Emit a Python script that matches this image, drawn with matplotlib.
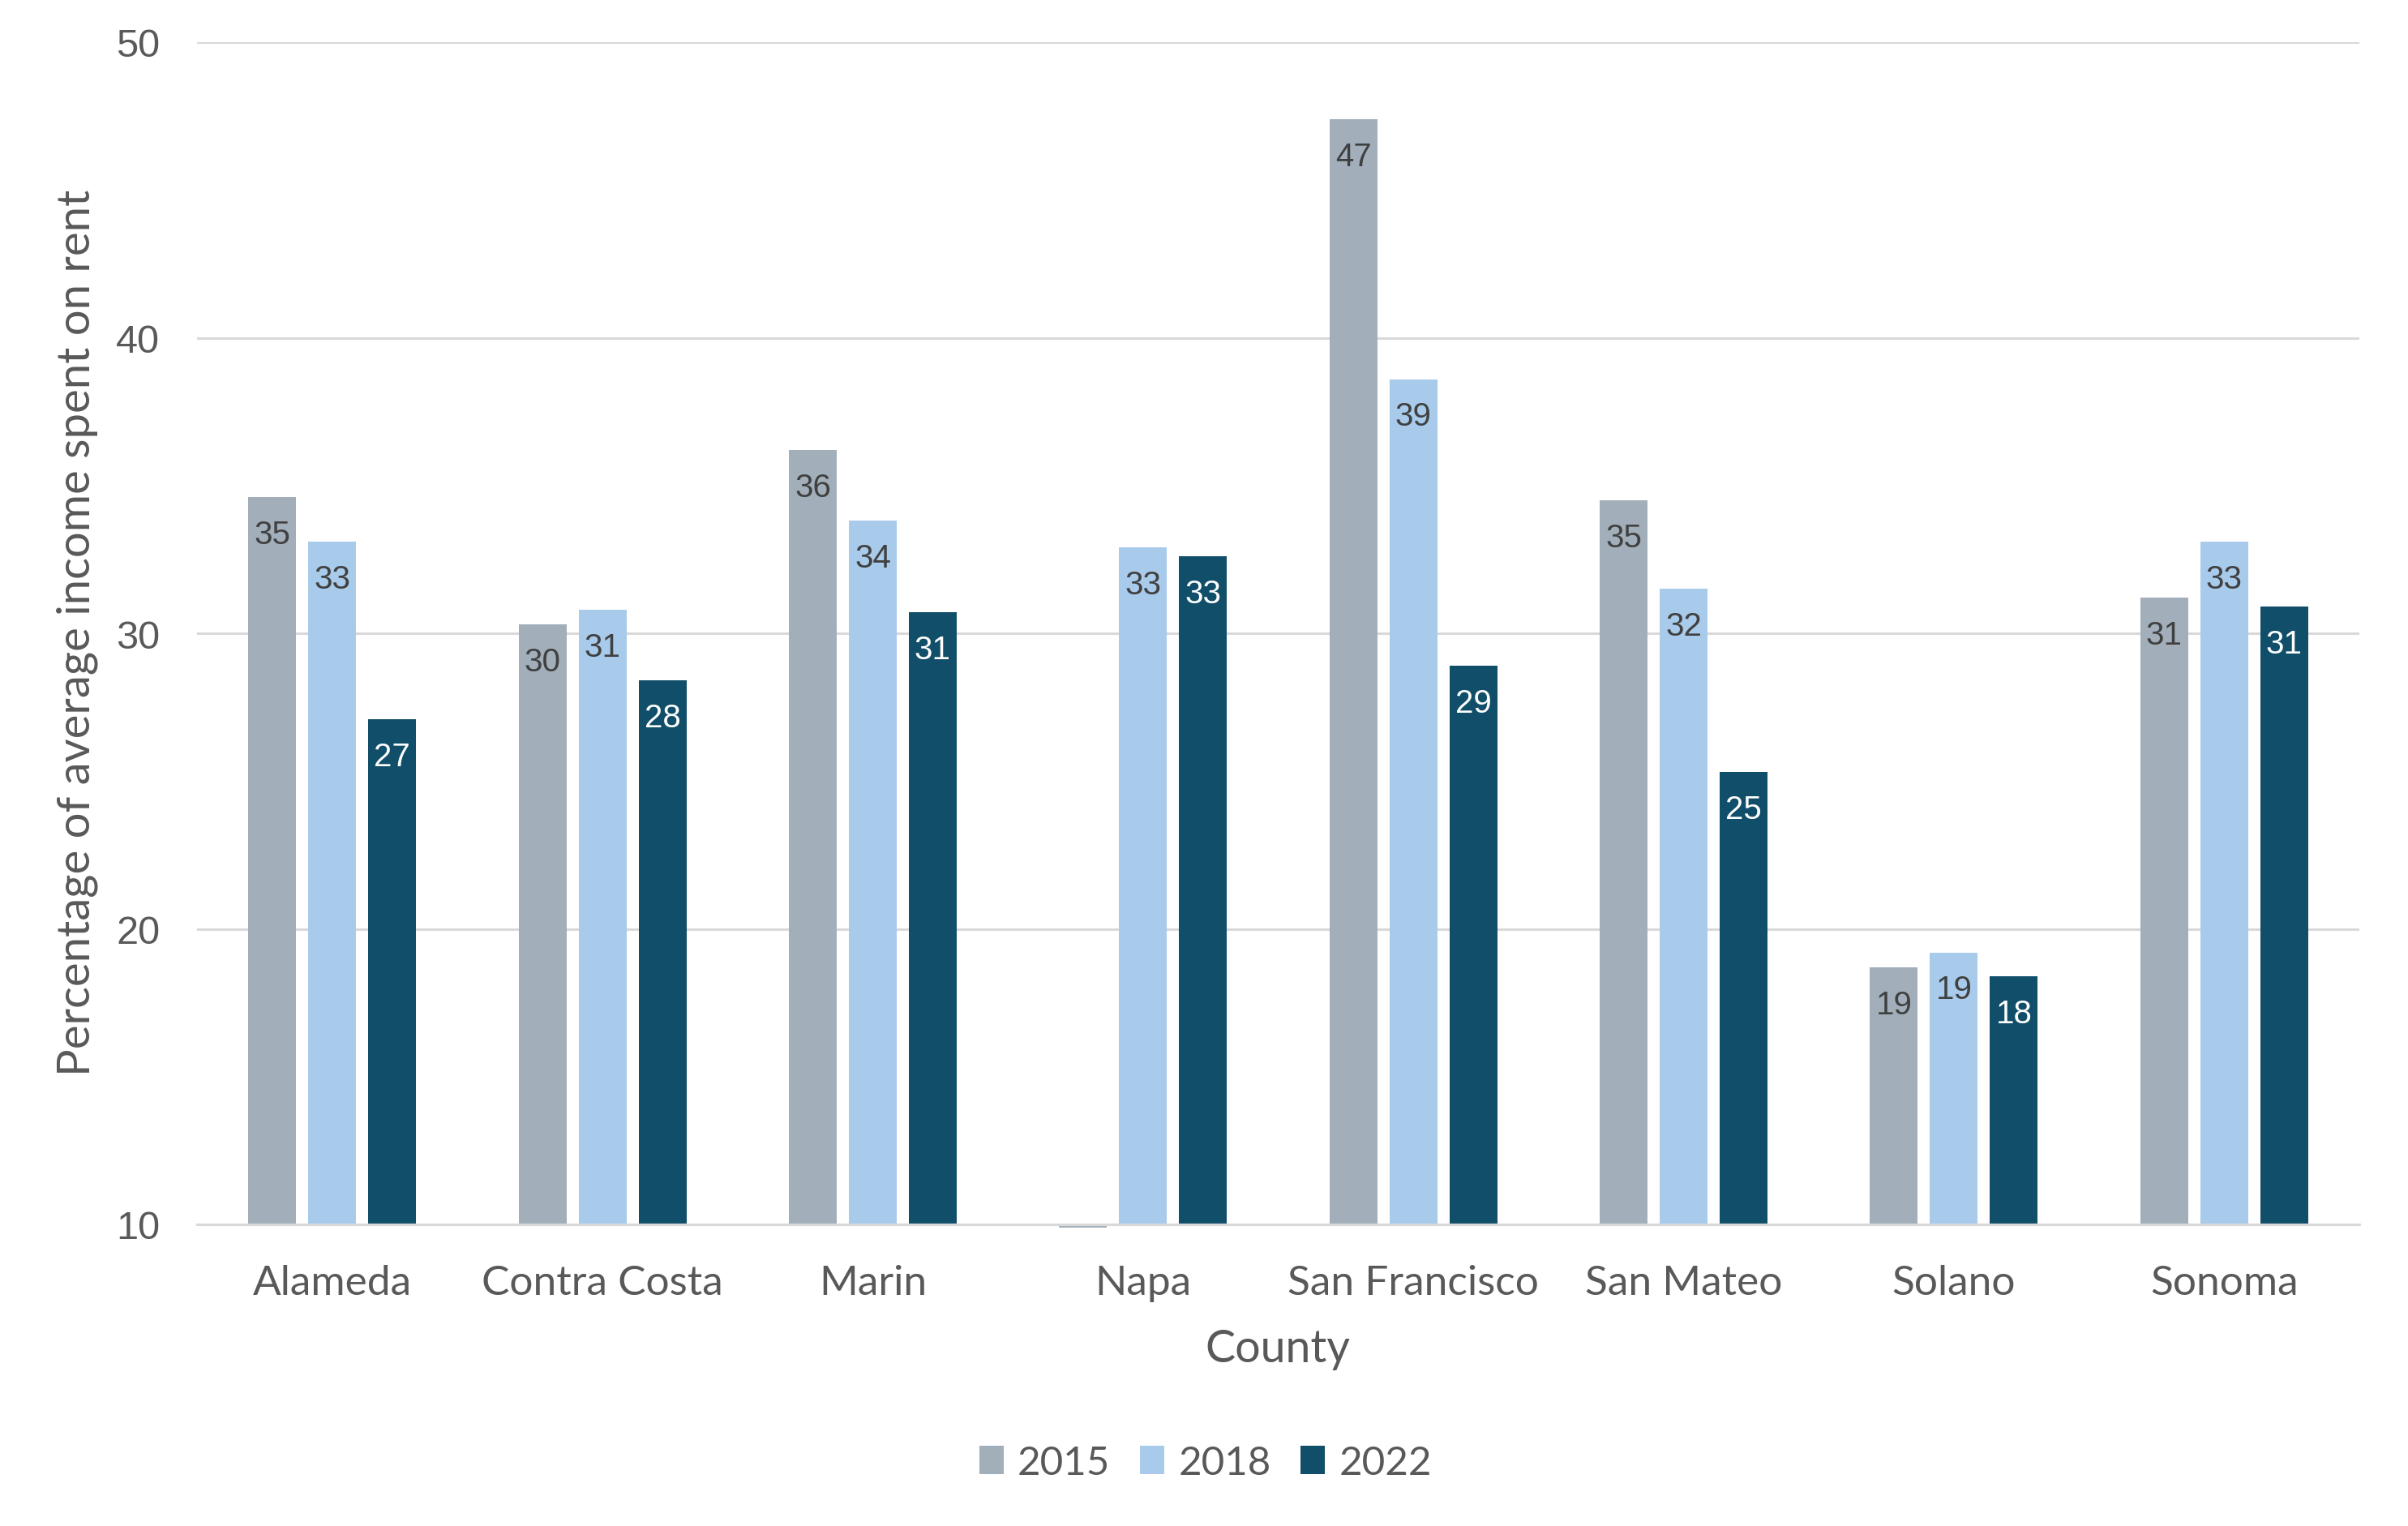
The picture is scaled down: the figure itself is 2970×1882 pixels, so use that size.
import numpy as np
import matplotlib
matplotlib.use("Agg")
from matplotlib import pyplot as plt
from matplotlib.patches import Patch

# data
counties = ["Alameda", "Contra Costa", "Marin", "Napa", "San Francisco",
            "San Mateo", "Solano", "Sonoma"]
years = ["2015", "2018", "2022"]
rent_2015 = [34.6, 30.3, 36.2, 9.9, 47.4, 34.5, 18.7, 31.2]
rent_2018 = [33.1, 30.8, 33.8, 32.9, 38.6, 31.5, 19.2, 33.1]
rent_2022 = [27.1, 28.4, 30.7, 32.6, 28.9, 25.3, 18.4, 30.9]
labels_2015 = ["35", "30", "36", "", "47", "35", "19", "31"]
labels_2018 = ["33", "31", "34", "33", "39", "32", "19", "33"]
labels_2022 = ["27", "28", "31", "33", "29", "25", "18", "31"]

colors = ["#A2AFBB", "#A8CAEB", "#104E6A"]
label_colors = ["#404040", "#404040", "#FFFFFF"]
text_color = "#595959"
base = 10

plt.rcParams["font.family"] = ["Lato", "DejaVu Sans"]

fig = plt.figure(figsize=(29.7, 18.83), dpi=100)
ax = fig.add_axes([243 / 2970, 1 - 1511 / 1883, (2910 - 243) / 2970, (1511 - 53) / 1883])

x = np.arange(len(counties))
width = 0.177
step = 0.222
series = [rent_2015, rent_2018, rent_2022]
labels = [labels_2015, labels_2018, labels_2022]

for i in range(3):
    vals = np.array(series[i]) - base
    pos = x + (i - 1) * step
    ax.bar(pos, vals, width, bottom=base, color=colors[i], zorder=3, clip_on=False)
    for p, v, t in zip(pos, series[i], labels[i]):
        if t:
            ax.annotate(t, (p, v), xytext=(0, -33), textcoords="offset points",
                        ha="center", va="center", fontsize=29,
                        family=["Liberation Sans", "DejaVu Sans"],
                        color=label_colors[i], zorder=4)

ax.set_xlim(-0.5, len(counties) - 0.5)
ax.set_ylim(10, 50)
ax.set_yticks([10, 20, 30, 40, 50])
ax.set_yticklabels(["10", "20", "30", "40", "50"], family=["Liberation Sans", "DejaVu Sans"])
ax.set_xticks(x)
ax.set_xticklabels(counties)
ax.tick_params(axis="y", length=0, pad=33, labelsize=35, labelcolor=text_color)
ax.tick_params(axis="x", length=0, pad=35, labelsize=37, labelcolor=text_color)
ax.grid(axis="y", color="#D9D9D9", linewidth=2.2, zorder=0)
for s in ["top", "right", "left"]:
    ax.spines[s].set_visible(False)
ax.spines["bottom"].set_color("#D9D9D9")
ax.spines["bottom"].set_linewidth(2.2)
ax.spines["bottom"].set_zorder(5)

fig.text(1576 / 2970, 1 - 1665 / 1883, "County", ha="center", va="center",
         fontsize=40, color=text_color)
fig.text(95 / 2970, 1 - 780 / 1883, "Percentage of average income spent on rent",
         ha="center", va="center", rotation=90, fontsize=40.5, color=text_color)

handles = [Patch(facecolor=c, edgecolor="none") for c in colors]
fig.legend(handles, years, loc="center", bbox_to_anchor=(1487 / 2970, 1 - 1805 / 1883),
           ncol=3, frameon=False, fontsize=35.5, labelcolor=text_color,
           handlelength=0.6, handleheight=0.7, handletextpad=0.35, columnspacing=0.75)

fig.savefig("out.png", dpi=100)
